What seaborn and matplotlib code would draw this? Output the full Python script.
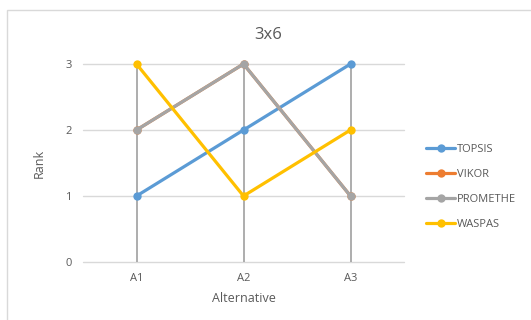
import matplotlib
matplotlib.use("Agg")
import matplotlib.pyplot as plt
import seaborn as sns
import pandas as pd
from matplotlib.patches import Rectangle
from matplotlib.lines import Line2D

alternatives = ["A1", "A2", "A3"]
topsis = [1, 2, 3]
vikor = [2, 3, 1]
promethe = [2, 3, 1]
waspas = [3, 1, 2]
series_names = ["TOPSIS", "VIKOR", "PROMETHE", "WASPAS"]
colors = ["#5B9BD5", "#ED7D31", "#A5A5A5", "#FFC000"]

rows = []
for name, vals in zip(series_names, [topsis, vikor, promethe, waspas]):
    for i, (a, v) in enumerate(zip(alternatives, vals)):
        rows.append({"Alternative": a, "pos": i, "Rank": v, "Series": name})
df = pd.DataFrame(rows)

sns.set_theme(style="white")
plt.rcParams["font.family"] = ["Open Sans", "DejaVu Sans"]

fig = plt.figure(figsize=(5.31, 3.2), dpi=100)
fig.patch.set_facecolor("white")
fig.patches.append(Rectangle((7/531, -0.1), 1.2, 1 - 10/320 + 0.1, transform=fig.transFigure,
                             fill=False, edgecolor="#D9D9D9", linewidth=1.0))
ax = fig.add_axes([83/531, 1 - 262/320, (404 - 83)/531, (262 - 64)/320])

# horizontal gridlines
for y in [0, 1, 2, 3]:
    ax.axhline(y, color="#D9D9D9", linewidth=1.0, zorder=0)

# drop lines (high-low)
for i in range(len(alternatives)):
    vals = [s[i] for s in [topsis, vikor, promethe, waspas]]
    ax.vlines(i, 0, max(vals), color="#A0A0A0", linewidth=1.2, zorder=1)

sns.lineplot(data=df, x="pos", y="Rank", hue="Series", hue_order=series_names,
             palette=colors, marker="o", markersize=6, markeredgewidth=0,
             linewidth=2.3, ax=ax, legend=False, zorder=3)

ax.set_xlim(-0.5, 2.5)
ax.set_ylim(0, 3)
ax.set_xticks(range(len(alternatives)))
ax.set_xticklabels(alternatives)
ax.set_yticks([0, 1, 2, 3])
ax.tick_params(axis="both", length=0, labelsize=8, colors="#595959", pad=8)
for s in ax.spines.values():
    s.set_visible(False)
ax.set_xlabel("Alternative", fontsize=9, color="#595959", labelpad=6)
ax.set_ylabel("Rank", fontsize=9, color="#595959", labelpad=14)
for line in ax.lines:
    line.set_clip_on(False)

fig.text(268/531, 1 - 35/320, "3x6", ha="center", va="center", fontsize=12, color="#595959")

handles = [Line2D([0], [0], color=c, linewidth=2.3, marker="o", markersize=6, markeredgewidth=0)
           for c in colors]
leg = fig.legend(handles, series_names, loc="center left", bbox_to_anchor=(422/531, 1 - 187/320),
                 frameon=False, fontsize=8, labelcolor="#595959", handlelength=2.6,
                 handletextpad=0.15, labelspacing=1.25, borderaxespad=0)

fig.savefig("out.png", dpi=100)
